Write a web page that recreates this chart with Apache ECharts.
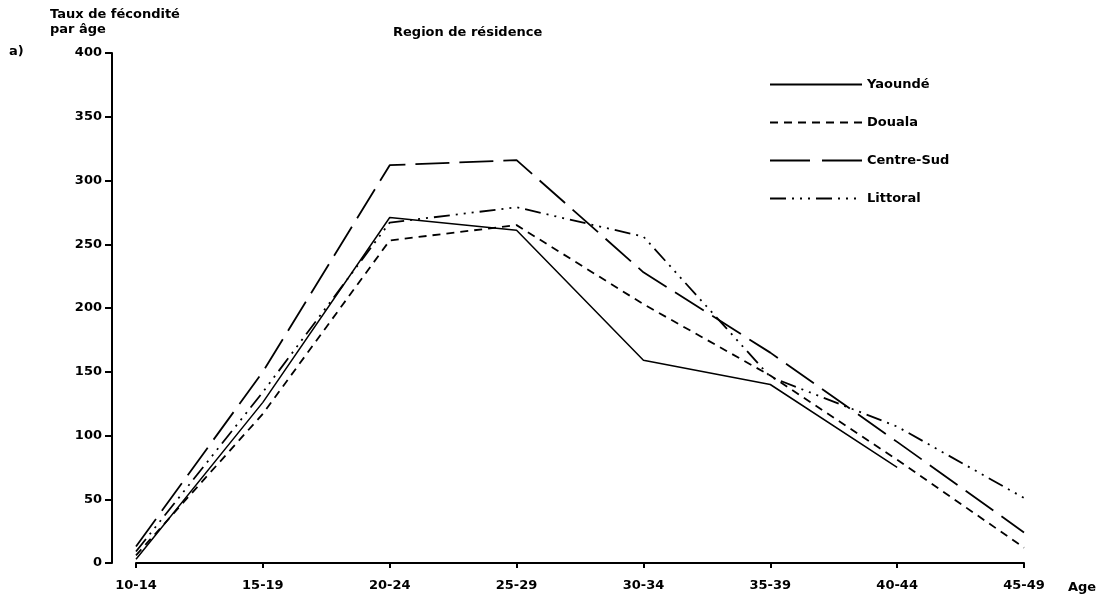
<!DOCTYPE html>
<html>
<head>
<meta charset="utf-8">
<script src="https://cdn.jsdelivr.net/npm/echarts@6/dist/echarts.min.js"></script>
<style>
html,body{margin:0;padding:0;background:#fff;}
#chart{width:1104px;height:597px;}
</style>
</head>
<body>
<div id="chart"></div>
<script>
var categories = ['10-14','15-19','20-24','25-29','30-34','35-39','40-44','45-49'];
var yTicks = [0, 50, 100, 150, 200, 250, 300, 350, 400];
var yaounde   = [3, 126, 271, 261, 159, 140, 75, null];
var douala    = [6, 117, 253, 265, 203, 147, 81, 12];
var centreSud = [13, 150, 312, 316, 228, 165, 95, 24];
var littoral  = [9, 134, 267, 279, 256, 146, 107, 51];
var seriesNames = ['Yaoundé', 'Douala', 'Centre-Sud', 'Littoral'];

var FONT = 'DejaVu Sans';
var chart = echarts.init(document.getElementById('chart'), null, {renderer: 'canvas'});

function mk(name, data, type, w) {
  return {
    name: name, type: 'line', data: data, symbol: 'none', showSymbol: false,
    connectNulls: false, animation: false,
    lineStyle: {color: '#000', width: w || 1.6, type: type},
    itemStyle: {color: '#000'}
  };
}

var legendData = seriesNames.map(function (n) {
  if (n === 'Centre-Sud') {
    return {name: n, lineStyle: {color: '#000', width: 1.8, type: [40, 12]}};
  }
  return {name: n};
});

chart.setOption({
  backgroundColor: '#fff',
  animation: false,
  grid: {left: 136, right: 80, top: 53, bottom: 34},
  legend: {
    orient: 'vertical', left: 764, top: 73, itemWidth: 92, itemHeight: 12, itemGap: 25,
    itemStyle: {opacity: 0, borderWidth: 0},
    textStyle: {fontFamily: FONT, fontWeight: 'bold', fontSize: 13, color: '#000'},
    data: legendData
  },
  xAxis: {
    type: 'category', data: categories, boundaryGap: false,
    axisLine: {lineStyle: {color: '#000', width: 2}},
    axisTick: {show: true, length: 5, alignWithLabel: true, lineStyle: {color: '#000', width: 2}},
    axisLabel: {margin: 16, color: '#000', fontFamily: FONT, fontWeight: 'bold', fontSize: 13},
    splitLine: {show: false}
  },
  yAxis: {
    type: 'value', min: 0, max: 400, interval: 50, offset: 24,
    axisLine: {show: true, lineStyle: {color: '#000', width: 2}},
    axisTick: {show: true, length: 7, lineStyle: {color: '#000', width: 2}},
    axisLabel: {margin: 10, color: '#000', fontFamily: FONT, fontWeight: 'bold', fontSize: 13,
      formatter: function (v) { return yTicks.indexOf(v) >= 0 ? String(v) : ''; }},
    splitLine: {show: false}
  },
  graphic: [
    {type: 'text', left: 50, top: 8, style: {text: 'Taux de fécondité', font: 'bold 13px "DejaVu Sans"', fill: '#000'}},
    {type: 'text', left: 50, top: 23, style: {text: 'par âge', font: 'bold 13px "DejaVu Sans"', fill: '#000'}},
    {type: 'text', left: 9, top: 45, style: {text: 'a)', font: 'bold 13px "DejaVu Sans"', fill: '#000'}},
    {type: 'text', left: 393, top: 26, style: {text: 'Region de résidence', font: 'bold 13px "DejaVu Sans"', fill: '#000'}},
    {type: 'text', left: 1068, top: 581, style: {text: 'Age', font: 'bold 13px "DejaVu Sans"', fill: '#000'}}
  ],
  series: [
    mk('Yaoundé', yaounde, 'solid', 1.5),
    mk('Douala', douala, [8, 6], 1.8),
    mk('Centre-Sud', centreSud, [34, 10], 1.8),
    mk('Littoral', littoral, [16, 6, 2, 6, 2, 6, 2, 6], 1.8)
  ]
});
</script>
</body>
</html>
